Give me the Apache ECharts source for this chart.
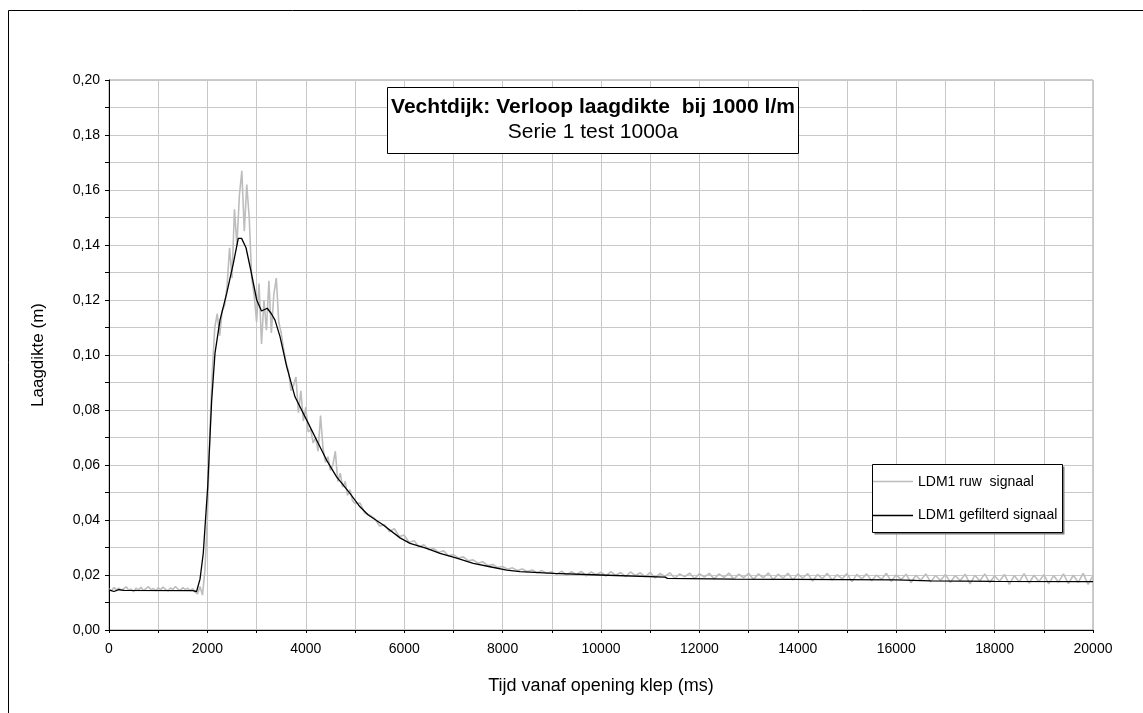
<!DOCTYPE html>
<html>
<head>
<meta charset="utf-8">
<script src="https://cdn.jsdelivr.net/npm/echarts@6/dist/echarts.min.js"></script>
<style>
html,body{margin:0;padding:0;background:#fff;}
#c{width:1143px;height:713px;}
</style>
</head>
<body>
<div id="c"></div>
<script>
// ---- data ----
const titleText = 'Vechtdijk: Verloop laagdikte  bij 1000 l/m';
const subtitleText = 'Serie 1 test 1000a';
const xAxisTitle = 'Tijd vanaf opening klep (ms)';
const yAxisTitle = 'Laagdikte (m)';
const seriesNames = ['LDM1 ruw  signaal', 'LDM1 gefilterd signaal'];

// raw signal, part A: sampled every 50 ms from 0 ms
const rawAStart = 0, rawAStep = 50;
const rawA = [
  .0150,.0142,.0155,.0146,.0152,.0144,.0150,.0157,.0145,.0149,
  .0139,.0152,.0146,.0155,.0144,.0150,.0158,.0146,.0151,.0143,
  .0154,.0147,.0156,.0148,.0142,.0153,.0147,.0158,.0149,.0144,
  .0154,.0147,.0152,.0143,.0150,.0138,
  .0131,.0158,.0127,.0218,
  .041,.072,.094,.110,.115,.107,.116,.118,.125,.139,
  .128,.153,.140,.158,.167,.145,.162,.150,.128,.122,
  .112,.126,.104,.120,.109,.127,.108,.122,.128,.112,
  .108,.102,.097,.094,.087,.089,.092,.079,.087,.076,
  .081,.072,.073,.068,.070,.065,.078,.066,.061,.063,
  .058,.060,.065,.054,.057,.052,.054,.049,.051,.047,
  .046
];
// raw signal, part B: sampled every 100 ms from 5100 ms
const rawBStart = 5100, rawBStep = 100;
const rawB = [
  .0462,.0425,.0418,.0405,.0378,.0383,.0358,.0368,.0340,.0345,
  .0318,.0325,.0302,.0310,.0292,.0296,.0282,.0288,.0270,.0274,
  .0262,.0266,.0252,.0255,.0243,.0248,.0234,.0238,.0227,.0231,
  .0221,.0226,.0216,.0222,.0213,.0218,.0208,.0216,.0206,.0212,
  .0203,.0214,.0199,.0212,.0201,.0213,.0197,.0211,.0202,.0210,
  .0196,.0212,.0199,.0209,.0194,.0211,.0198,.0208,.0193,.0210,
  .0189,.0206,.0195,.0208,.0188,.0204,.0193,.0207,.0187,.0205,
  .0192,.0206,.0186,.0204,.0191,.0207,.0185,.0203,.0190,.0206,
  .0184,.0204,.0190,.0207,.0183,.0203,.0189,.0206,.0182,.0204,
  .0189,.0205,.0178,.0202,.0187,.0206,.0181,.0201,.0186,.0205,
  .0176,.0202,.0186,.0204,.0179,.0200,.0184,.0206,.0177,.0201,
  .0183,.0203,.0172,.0199,.0181,.0204,.0175,.0198,.0180,.0202,
  .0173,.0198,.0179,.0203,.0168,.0199,.0178,.0204,.0172,.0197,
  .0177,.0202,.0166,.0198,.0175,.0205,.0170,.0199,.0176,.0201,
  .0168,.0198,.0174,.0204,.0169,.0199,.0173,.0206,.0166,.0198
];

// filtered signal: times (ms) and values (m)
const filtT = [0,100,200,300,1700,1780,1850,1916,2006,2087,2154,2256,2392,2527,2628,2695,2785,2880,3002,3100,3217,3300,3374,3476,3612,3780,4016,4219,4422,4626,4898,5101,5270,5575,5915,6118,6457,6728,7067,7404,7744,8083,8354,9030,9980,11300,11350,12683,13900,16000,16700,18000,20000];
const filtV = [.0146,.0140,.0147,.0144,.0143,.0140,.0185,.0279,.0521,.0836,.1006,.1127,.1224,.1333,.1424,.1424,.1390,.1310,.1200,.1160,.1170,.1150,.1127,.1067,.0958,.0848,.0764,.0691,.0618,.0557,.0497,.0448,.0418,.0382,.0335,.0315,.0297,.0279,.0261,.0242,.0230,.0218,.0212,.0206,.0200,.0192,.0188,.0185,.0184,.0182,.0179,.0177,.0176];

// ---- build series data ----
const rawData = [];
rawA.forEach((v, i) => rawData.push([rawAStart + i * rawAStep, v]));
rawB.forEach((v, i) => rawData.push([rawBStart + i * rawBStep, v]));
const filtData = filtT.map((t, i) => [t, filtV[i]]);

const FONT = '"Liberation Sans", Arial, sans-serif';
const RAW_COLOR = '#bdbdbd';
const chart = echarts.init(document.getElementById('c'), null, {renderer: 'canvas'});
chart.setOption({
  animation: false,
  backgroundColor: '#fff',
  grid: {left: 109, right: 50, top: 80, bottom: 83, show: true, borderColor: '#999', borderWidth: 1, backgroundColor: '#fff'},
  xAxis: {
    type: 'value', min: 0, max: 20000, interval: 1000,
    name: xAxisTitle, nameLocation: 'middle', nameGap: 47,
    nameTextStyle: {fontFamily: FONT, fontSize: 18, color: '#000'},
    axisLine: {show: true, onZero: false, lineStyle: {color: '#000', width: 1}},
    axisTick: {show: true, inside: false, length: 3, lineStyle: {color: '#000'}},
    axisLabel: {fontFamily: FONT, fontSize: 14, color: '#000', margin: 12,
      formatter: v => (Math.round(v) % 2000 === 0 ? String(Math.round(v)) : '')},
    splitLine: {show: true, lineStyle: {color: '#c8c8c8', width: 1}}
  },
  yAxis: {
    type: 'value', min: 0, max: 0.2, interval: 0.01,
    name: yAxisTitle, nameLocation: 'middle', nameGap: 62, nameRotate: 90,
    nameTextStyle: {fontFamily: FONT, fontSize: 17, color: '#000'},
    axisLine: {show: true, lineStyle: {color: '#000', width: 1}},
    axisTick: {show: true, inside: false, length: 4, lineStyle: {color: '#000'}},
    axisLabel: {fontFamily: FONT, fontSize: 14, color: '#000', margin: 9,
      formatter: v => { const k = Math.round(v * 100); return k % 2 === 0 ? (k / 100).toFixed(2).replace('.', ',') : ''; }},
    splitLine: {show: true, lineStyle: {color: '#c8c8c8', width: 1}}
  },
  legend: {show: false},
  graphic: [
    {type: 'rect', z: 100, shape: {x: 8.5, y: 10.5, width: 1300, height: 900},
      style: {fill: 'none', stroke: '#000', lineWidth: 1}},
    // title box
    {type: 'rect', z: 100, shape: {x: 387.5, y: 87.5, width: 411, height: 66},
      style: {fill: '#fff', stroke: '#000', lineWidth: 1}},
    {type: 'text', z: 101, x: 593, y: 107,
      style: {text: titleText, font: 'bold 21px ' + FONT, fill: '#000', align: 'center', verticalAlign: 'middle'}},
    {type: 'text', z: 101, x: 593, y: 132,
      style: {text: subtitleText, font: '21px ' + FONT, fill: '#000', align: 'center', verticalAlign: 'middle'}},
    // legend box
    {type: 'rect', z: 100, shape: {x: 874.5, y: 466.5, width: 190, height: 68},
      style: {fill: '#7f7f7f', stroke: 'none'}},
    {type: 'rect', z: 101, shape: {x: 872.5, y: 464.5, width: 190, height: 68},
      style: {fill: '#fff', stroke: '#000', lineWidth: 1}},
    {type: 'line', z: 102, shape: {x1: 873, y1: 481.5, x2: 913, y2: 481.5},
      style: {stroke: RAW_COLOR, lineWidth: 1.3}},
    {type: 'text', z: 102, x: 918, y: 482,
      style: {text: seriesNames[0], font: '14px ' + FONT, fill: '#000', align: 'left', verticalAlign: 'middle'}},
    {type: 'line', z: 102, shape: {x1: 873, y1: 515.5, x2: 913, y2: 515.5},
      style: {stroke: '#000', lineWidth: 1.3}},
    {type: 'text', z: 102, x: 918, y: 515,
      style: {text: seriesNames[1], font: '14px ' + FONT, fill: '#000', align: 'left', verticalAlign: 'middle'}}
  ],
  series: [
    {name: seriesNames[0], type: 'line', data: rawData, showSymbol: false, symbol: 'none',
      lineStyle: {color: RAW_COLOR, width: 1.6}, itemStyle: {color: RAW_COLOR}},
    {name: seriesNames[1], type: 'line', data: filtData, showSymbol: false, symbol: 'none',
      lineStyle: {color: '#000', width: 1.3}, itemStyle: {color: '#000'}}
  ]
});
</script>
</body>
</html>
